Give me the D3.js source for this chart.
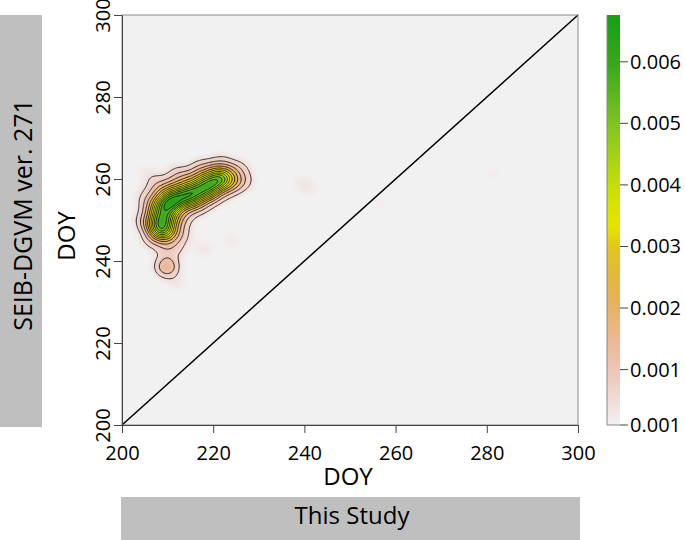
<!DOCTYPE html>
<html><head><meta charset="utf-8">
<script src="https://cdn.jsdelivr.net/npm/d3@7"></script>
<style>body{margin:0;background:#fff;} svg text{font-family:'Open Sans',sans-serif;fill:#000;}</style>
</head><body><svg id="c" width="685" height="540"></svg>
<script>
// ---- data ----
// sample points (This Study DOY, SEIB-DGVM DOY) and their weights for the 2-D kernel density
const sampleX = [208.5, 208.8, 209.5, 211.5, 214.0, 216.5, 219.0, 221.5,
                 206.5, 206.8, 208.5, 211.0, 214.0, 217.0, 220.0, 223.5, 224.5, 219.5, 215.5, 212.0, 211.0, 210.5,
                 204.8, 205.2, 207.2, 212.0, 217.0, 222.0, 226.0, 227.0, 222.5, 217.5, 213.8, 213.2, 206.2, 209.5, 212.2,
                 209.8,
                 239.5, 241.5, 256.5, 281.5, 218.0, 224.0, 212.0, 205.0];
const sampleY = [247.5, 250.5, 253.5, 255.0, 256.0, 257.0, 258.5, 259.8,
                 249.0, 253.0, 256.5, 258.0, 259.5, 260.5, 262.0, 261.5, 259.0, 256.0, 254.0, 252.5, 249.5, 246.5,
                 250.0, 255.5, 259.5, 261.5, 263.0, 264.0, 262.5, 259.5, 257.0, 253.5, 250.5, 246.5, 245.0, 243.2, 243.0,
                 238.6,
                 259.0, 257.5, 254.0, 261.0, 243.0, 245.0, 234.5, 262.0];
const sampleWeight = [9, 9, 9, 9, 9, 9, 9, 9,
                      3, 3, 3, 3, 3, 3, 3, 3, 3, 3, 3, 3, 3, 3,
                      1.2, 1.2, 1.2, 1.2, 1.2, 1.2, 1.2, 1.2, 1.2, 1.2, 1.2, 1.2, 1.2, 1.5, 1.0,
                      4.2,
                      0.7, 0.5, 0.5, 0.5, 0.8, 0.7, 0.7, 0.5];
const bandwidth = 1.8;               // DOY
const axisTicks = [200, 220, 240, 260, 280, 300];
const colorbarTickValues = [0.0001, 0.001, 0.002, 0.003, 0.004, 0.005, 0.006];
const colorbarTickLabels = ["0.001", "0.001", "0.002", "0.003", "0.004", "0.005", "0.006"];
const colorbarDomain = [0.0001, 0.00676];
const rampValues = [0.0001, 0.0005, 0.001, 0.0015, 0.002, 0.0025, 0.003, 0.0033, 0.0037, 0.004, 0.0045, 0.005, 0.0055, 0.006, 0.0068];
const rampColors = ["#f2f1f1", "#f0dcd7", "#efc4b6", "#ecb892", "#e7b263", "#e4b73e", "#e2c61a", "#e6e200", "#d6e400", "#c4de08", "#a2d214", "#7ec41e", "#58b61e", "#34a81a", "#14a014"];
const contourStep = 0.0005;
const xTitle = "DOY", yTitle = "DOY";
const leftBoxLabel = "SEIB-DGVM ver. 271";
const bottomBoxLabel = "This Study";

// ---- layout ----
const svg = d3.select("#c");
const plot = {l: 122, r: 578, t: 15, b: 425};
const x = d3.scaleLinear().domain([200, 300]).range([plot.l, plot.r]);
const y = d3.scaleLinear().domain([200, 300]).range([plot.b, plot.t]);
const color = d3.scaleLinear().domain(rampValues).range(rampColors).clamp(true);

const totalW = d3.sum(sampleWeight);
const norm = 1 / (2 * Math.PI * bandwidth * bandwidth * totalW);
const inv2h2 = 1 / (2 * bandwidth * bandwidth);
function density(dx, dy) {
  let s = 0;
  for (let k = 0; k < sampleX.length; k++) {
    const a = dx - sampleX[k], b = dy - sampleY[k];
    s += sampleWeight[k] * Math.exp(-(a * a + b * b) * inv2h2);
  }
  return s * norm;
}

// raster image of density
const pw = plot.r - plot.l, ph = plot.b - plot.t;
const cv = document.createElement("canvas");
cv.width = pw; cv.height = ph;
const ctx = cv.getContext("2d");
const img = ctx.createImageData(pw, ph);
for (let j = 0; j < ph; j++) {
  const dy = y.invert(plot.t + j + 0.5);
  for (let i = 0; i < pw; i++) {
    const dx = x.invert(plot.l + i + 0.5);
    const c = d3.rgb(color(density(dx, dy)));
    const o = (j * pw + i) * 4;
    img.data[o] = c.r; img.data[o + 1] = c.g; img.data[o + 2] = c.b; img.data[o + 3] = 255;
  }
}
ctx.putImageData(img, 0, 0);
svg.append("image").attr("x", plot.l).attr("y", plot.t).attr("width", pw).attr("height", ph)
  .attr("preserveAspectRatio", "none").attr("href", cv.toDataURL());

// contours on a data grid
const step = 0.25, n = 401;
const grid = new Float64Array(n * n);
for (let j = 0; j < n; j++) for (let i = 0; i < n; i++) grid[j * n + i] = density(200 + i * step, 200 + j * step);
const thresholds = d3.range(contourStep, d3.max(grid), contourStep);
const cont = d3.contours().size([n, n]).thresholds(thresholds)(grid);
const proj = d3.geoTransform({point(px, py) { this.stream.point(x(200 + (px - 0.5) * step), y(200 + (py - 0.5) * step)); }});
const path = d3.geoPath(proj);
svg.append("clipPath").attr("id", "clip").append("rect").attr("x", plot.l).attr("y", plot.t).attr("width", pw).attr("height", ph);
svg.append("g").attr("clip-path", "url(#clip)").selectAll("path").data(cont).join("path")
  .attr("d", path).attr("fill", "none").attr("stroke", "#111").attr("stroke-width", 0.9).attr("stroke-opacity", 0.95);

// 1:1 line
svg.append("line").attr("x1", x(200)).attr("y1", y(200)).attr("x2", x(300)).attr("y2", y(300))
  .attr("stroke", "#000").attr("stroke-width", 1.5);

// frame
svg.append("rect").attr("x", plot.l).attr("y", plot.t).attr("width", pw).attr("height", ph)
  .attr("fill", "none").attr("stroke", "#8a8a8a").attr("stroke-width", 1);

// axes
const xa = svg.append("g").attr("transform", `translate(0,${plot.b})`)
  .call(d3.axisBottom(x).tickValues(axisTicks).tickSize(8).tickPadding(12.5).tickSizeOuter(0));
xa.select(".domain").attr("stroke", "#444");
xa.selectAll(".tick line").attr("stroke", "#444");
xa.selectAll("text").attr("font-size", 20).attr("font-family", "'Open Sans',sans-serif").attr("fill", "#000");

const ya = svg.append("g").attr("transform", `translate(${plot.l},0)`)
  .call(d3.axisLeft(y).tickValues(axisTicks).tickSize(8).tickSizeOuter(0));
ya.select(".domain").attr("stroke", "#444");
ya.selectAll(".tick line").attr("stroke", "#444");
ya.selectAll("text").attr("transform", "rotate(-90)").attr("x", 0).attr("y", -12).attr("dy", 0)
  .attr("text-anchor", "middle").attr("font-size", 20).attr("font-family", "'Open Sans',sans-serif").attr("fill", "#000");

// axis titles
svg.append("text").attr("x", 348).attr("y", 485).attr("text-anchor", "middle").attr("font-size", 24).text(xTitle);
svg.append("text").attr("transform", "translate(75,236) rotate(-90)").attr("text-anchor", "middle").attr("font-size", 24).text(yTitle);

// grey label boxes
svg.append("rect").attr("x", 0).attr("y", 15).attr("width", 42).attr("height", 412).attr("fill", "#bfbfbf");
svg.append("text").attr("transform", "translate(32,215) rotate(-90)").attr("text-anchor", "middle").attr("font-size", 25).text(leftBoxLabel);
svg.append("rect").attr("x", 121).attr("y", 497).attr("width", 459).attr("height", 43).attr("fill", "#bfbfbf");
svg.append("text").attr("x", 352).attr("y", 524).attr("text-anchor", "middle").attr("font-size", 24).text(bottomBoxLabel);

// colour bar
const cb = {x: 607, w: 13, t: 15, b: 425};
const cy = d3.scaleLinear().domain(colorbarDomain).range([cb.b, cb.t]);
const grad = svg.append("defs").append("linearGradient").attr("id", "cbg").attr("x1", 0).attr("y1", 1).attr("x2", 0).attr("y2", 0);
d3.range(0, 1.0001, 0.02).forEach(f => {
  const v = colorbarDomain[0] + f * (colorbarDomain[1] - colorbarDomain[0]);
  grad.append("stop").attr("offset", f).attr("stop-color", color(v));
});
svg.append("rect").attr("x", cb.x).attr("y", cb.t).attr("width", cb.w).attr("height", cb.b - cb.t).attr("fill", "url(#cbg)");
svg.append("path").attr("d", `M${cb.x},${cb.t}V${cb.b}H${cb.x + cb.w}`).attr("fill", "none").attr("stroke", "#888");
const cbt = svg.append("g").selectAll("g").data(colorbarTickValues).join("g")
  .attr("transform", d => `translate(${cb.x + cb.w},${cy(d)})`);
cbt.append("line").attr("x1", 0).attr("x2", 8).attr("stroke", "#444");
cbt.append("text").attr("x", 10).attr("dy", "0.35em").attr("font-size", 20).text((d, i) => colorbarTickLabels[i]);
</script></body></html>
